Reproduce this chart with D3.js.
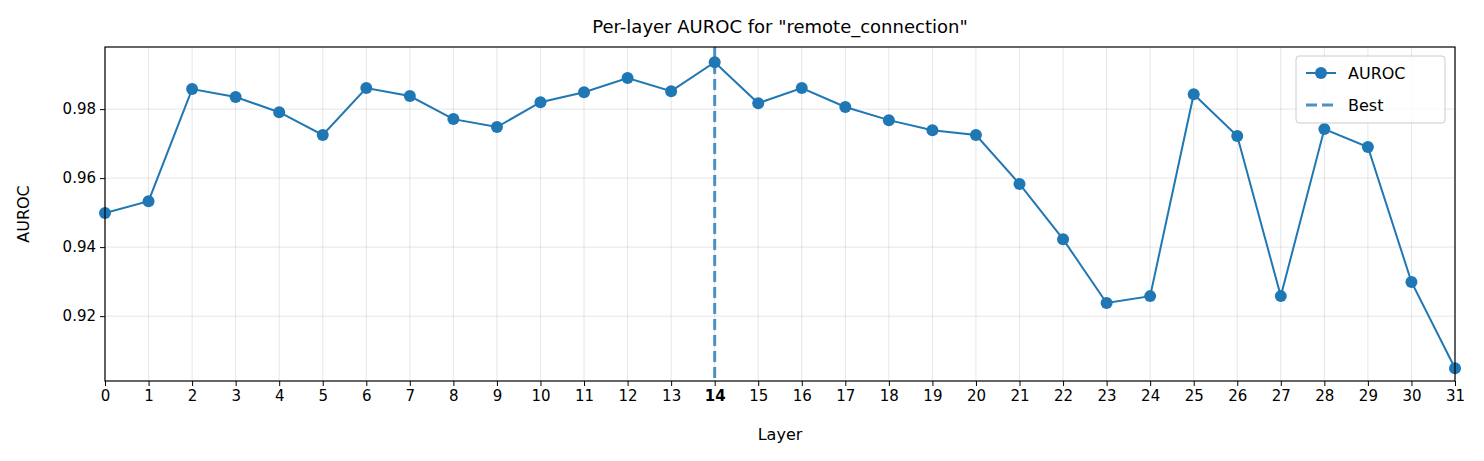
<!DOCTYPE html>
<html><head><meta charset="utf-8">
<script src="https://cdn.jsdelivr.net/npm/d3@7"></script>
<style>body{margin:0;background:#fff;font-family:"DejaVu Sans",sans-serif;} svg text{font-family:"DejaVu Sans",sans-serif;}</style>
</head><body>
<svg id="chart" width="1484" height="461"></svg>
<script>
const layers = d3.range(0, 32);
const auroc = [0.9499,0.9533,0.9858,0.9835,0.9791,0.9725,0.9861,0.9838,0.9771,0.9748,
  0.9820,0.9849,0.9890,0.9852,0.9936,0.9817,0.9861,0.9806,0.9768,0.9739,
  0.9725,0.9583,0.9423,0.9238,0.9258,0.9843,0.9722,0.9258,0.9742,0.9690,
  0.9299,0.9049];
const bestLayer = 14;
const yTicks = [0.92, 0.94, 0.96, 0.98];
const title = 'Per-layer AUROC for "remote_connection"';

const svg = d3.select('#chart');
const m = {left: 105, right: 1455, top: 47, bottom: 381};
const x = d3.scaleLinear().domain([0, 31]).range([m.left, m.right]);
const y = d3.scaleLinear().domain([0.9012, 0.998]).range([m.bottom, m.top]);
const blue = '#1f77b4';

// grid
svg.append('g').selectAll('line').data(layers).enter().append('line')
  .attr('x1', d => x(d)).attr('x2', d => x(d)).attr('y1', m.top).attr('y2', m.bottom)
  .attr('stroke', '#000').attr('stroke-opacity', 0.13).attr('stroke-width', 0.8);
svg.append('g').selectAll('line').data(yTicks).enter().append('line')
  .attr('x1', m.left).attr('x2', m.right).attr('y1', d => y(d)).attr('y2', d => y(d))
  .attr('stroke', '#000').attr('stroke-opacity', 0.13).attr('stroke-width', 0.8);

svg.append('clipPath').attr('id', 'clip').append('rect')
  .attr('x', m.left).attr('y', m.top).attr('width', m.right - m.left).attr('height', m.bottom - m.top);

const plot = svg.append('g').attr('clip-path', 'url(#clip)');
plot.append('line').attr('x1', x(bestLayer)).attr('x2', x(bestLayer))
  .attr('y1', m.top).attr('y2', m.bottom).attr('stroke', blue).attr('stroke-opacity', 0.8)
  .attr('stroke-width', 3).attr('stroke-dasharray', '11,5');
plot.append('path').datum(auroc)
  .attr('d', d3.line().x((d, i) => x(i)).y(d => y(d)))
  .attr('fill', 'none').attr('stroke', blue).attr('stroke-width', 2);
svg.append('g').selectAll('circle').data(auroc).enter().append('circle')
  .attr('cx', (d, i) => x(i)).attr('cy', d => y(d)).attr('r', 6).attr('fill', blue);

// axes
const xa = svg.append('g').attr('transform', `translate(0,${m.bottom})`)
  .call(d3.axisBottom(x).tickValues(layers).tickFormat(d3.format('d')).tickSize(5).tickPadding(4));
const ya = svg.append('g').attr('transform', `translate(${m.left},0)`)
  .call(d3.axisLeft(y).tickValues(yTicks).tickFormat(d3.format('.2f')).tickSize(5).tickPadding(4));
[xa, ya].forEach(a => {
  a.attr('font-family', null).attr('font-size', null);
  a.select('.domain').remove();
  a.selectAll('line').attr('stroke', '#000');
  a.selectAll('text').style('font-size', '15px').attr('fill', '#000');
});
xa.selectAll('text').style('font-weight', d => d === bestLayer ? 'bold' : 'normal');

svg.append('rect').attr('x', m.left).attr('y', m.top).attr('width', m.right - m.left)
  .attr('height', m.bottom - m.top).attr('fill', 'none').attr('stroke', '#000').attr('stroke-width', 1.2);

svg.append('text').attr('x', (m.left + m.right) / 2).attr('y', 33).attr('text-anchor', 'middle')
  .style('font-size', '18px').text(title);
svg.append('text').attr('x', (m.left + m.right) / 2).attr('y', 440).attr('text-anchor', 'middle')
  .style('font-size', '16px').text('Layer');
svg.append('text').attr('transform', `translate(29,${(m.top + m.bottom) / 2}) rotate(-90)`)
  .attr('text-anchor', 'middle').style('font-size', '16px').text('AUROC');

// legend
const lg = svg.append('g').attr('transform', 'translate(1296,56)');
lg.append('rect').attr('width', 149).attr('height', 67).attr('rx', 3)
  .attr('fill', '#fff').attr('fill-opacity', 0.8).attr('stroke', '#ccc');
lg.append('line').attr('x1', 10).attr('x2', 40).attr('y1', 17).attr('y2', 17).attr('stroke', blue).attr('stroke-width', 2);
lg.append('circle').attr('cx', 25).attr('cy', 17).attr('r', 6).attr('fill', blue);
lg.append('text').attr('x', 52).attr('y', 23).style('font-size', '16px').text('AUROC');
lg.append('line').attr('x1', 10).attr('x2', 40).attr('y1', 49).attr('y2', 49).attr('stroke', blue)
  .attr('stroke-opacity', 0.8).attr('stroke-width', 3).attr('stroke-dasharray', '11,5');
lg.append('text').attr('x', 52).attr('y', 55).style('font-size', '16px').text('Best');
</script>
</body></html>
